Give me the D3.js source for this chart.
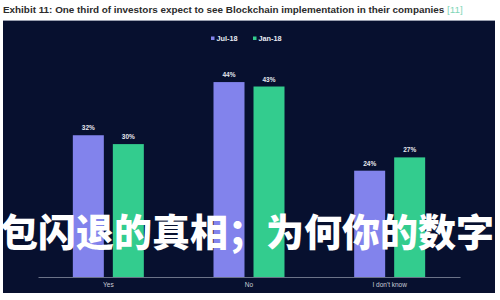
<!DOCTYPE html>
<html><head><meta charset="utf-8">
<script src="https://cdn.jsdelivr.net/npm/d3@7"></script>
<style>
html,body{margin:0;padding:0;background:#fff;overflow:hidden;}
svg{display:block;}
</style></head>
<body>
<svg id="c" width="500" height="300"></svg>
<script>
const categories = ["Yes", "No", "I don't know"];
const seriesNames = ["Jul-18", "Jan-18"];
const jul18 = [32, 44, 24];
const jan18 = [30, 43, 27];
const titleText = "Exhibit 11: One third of investors expect to see Blockchain implementation in their companies";
const titleRef = "[11]";
const overlayText = "包闪退的真相；为何你的数字";

const colors = {"Jul-18": "#8283ec", "Jan-18": "#33cc8e"};
const svg = d3.select("#c");

// title
const t = svg.append("text").attr("x", 3).attr("y", 12.5)
  .attr("font-family", "Liberation Sans, Arial, sans-serif")
  .attr("font-size", 9.9).attr("font-weight", "bold").attr("fill", "#2b2b2b")
  .text(titleText);
t.append("tspan").attr("fill", "#7fd6b8").attr("font-weight", "normal").text(" " + titleRef);

// panel
svg.append("rect").attr("x", 3).attr("y", 20).attr("width", 492).attr("height", 273).attr("fill", "#07102f");
svg.append("line").attr("x1", 3).attr("x2", 495).attr("y1", 20.5).attr("y2", 20.5).attr("stroke", "#9aa0b0").attr("stroke-width", 1);

const x0 = d3.scaleBand().domain(categories).range([38, 460]).paddingInner(0).paddingOuter(0);
const groupW = 71;
const x1 = d3.scaleBand().domain(seriesNames).range([0, groupW]).paddingInner(0.225).paddingOuter(0);
const y = d3.scaleLinear().domain([0, 50]).range([277, 55.5]);

const data = categories.map((c, i) => ({cat: c, vals: [{s: "Jul-18", v: jul18[i]}, {s: "Jan-18", v: jan18[i]}]}));

const g = svg.selectAll("g.grp").data(data).join("g").attr("class", "grp")
  .attr("transform", d => `translate(${x0(d.cat) + x0.bandwidth() / 2 - groupW / 2},0)`);

g.selectAll("rect").data(d => d.vals).join("rect")
  .attr("x", d => x1(d.s)).attr("width", x1.bandwidth())
  .attr("y", d => y(d.v)).attr("height", d => y(0) - y(d.v))
  .attr("fill", d => colors[d.s]);

g.selectAll("text.val").data(d => d.vals).join("text").attr("class", "val")
  .attr("x", d => x1(d.s) + x1.bandwidth() / 2).attr("y", d => y(d.v) - 5)
  .attr("text-anchor", "middle").attr("font-family", "Liberation Sans, Arial, sans-serif")
  .attr("font-size", 6.5).attr("font-weight", "bold").attr("fill", "#e6e8f0")
  .text(d => d.v + "%");

// axis
const ax = svg.append("g").attr("transform", `translate(0,${y(0)})`)
  .call(d3.axisBottom(x0).tickSize(0).tickPadding(5));
ax.select(".domain").attr("stroke", "#6b7388").attr("stroke-width", 1);
ax.selectAll("text").attr("fill", "#c9ccd6").attr("font-size", 6.5)
  .attr("font-family", "Liberation Sans, Arial, sans-serif");

// legend
const leg = svg.append("g").attr("font-family", "Liberation Sans, Arial, sans-serif")
  .attr("font-size", 7.3).attr("font-weight", "bold");
const legX = [211, 253];
seriesNames.forEach((s, i) => {
  leg.append("rect").attr("x", legX[i]).attr("y", 36.5).attr("width", 3.5).attr("height", 3.5).attr("fill", colors[s]);
  leg.append("text").attr("x", legX[i] + 5.5).attr("y", 41).attr("fill", "#e8eaf2").text(s);
});

// overlay text
svg.append("text").attr("x", 0).attr("y", 246)
  .attr("font-family", "Noto Sans CJK SC, sans-serif").attr("font-weight", 900)
  .attr("font-size", 38).attr("fill", "#ffffff").text(overlayText);
</script>
</body></html>
